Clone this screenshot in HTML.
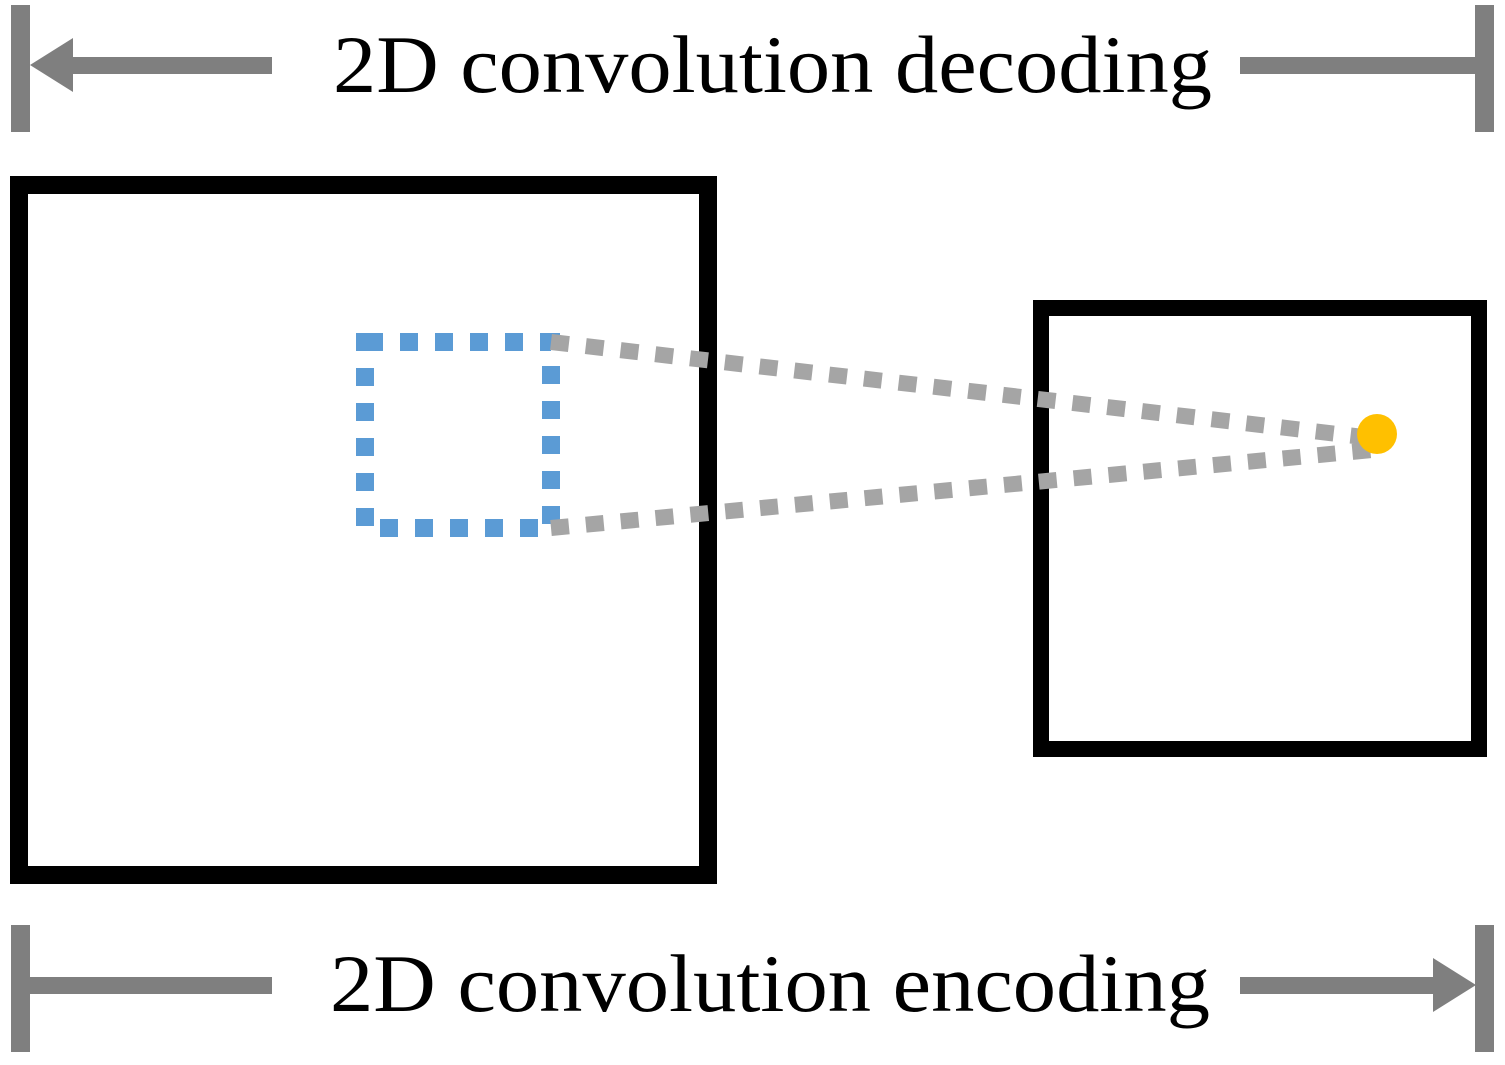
<!DOCTYPE html>
<html><head><style>html,body{margin:0;padding:0;background:#fff;width:1505px;height:1065px;overflow:hidden}</style></head>
<body>
<svg width="1505" height="1065" xmlns="http://www.w3.org/2000/svg">
<g fill="#7f7f7f" stroke="none">
<rect x="11" y="5" width="19" height="127"/>
<rect x="60" y="57" width="212" height="17"/>
<polygon points="30,65 73,38 73,92"/>
<rect x="1475" y="5" width="19" height="127"/>
<rect x="1240" y="57" width="237" height="17"/>
<rect x="11" y="925" width="19" height="127"/>
<rect x="30" y="977" width="242" height="17"/>
<rect x="1475" y="925" width="19" height="127"/>
<rect x="1240" y="977" width="200" height="17"/>
<polygon points="1476,985 1433,958 1433,1012"/>
</g>
<text x="333" y="92" font-family="Liberation Serif, serif" font-size="82" textLength="879" lengthAdjust="spacingAndGlyphs">2D convolution decoding</text>
<text x="330" y="1011" font-family="Liberation Serif, serif" font-size="82" textLength="880" lengthAdjust="spacingAndGlyphs">2D convolution encoding</text>
<rect x="19" y="185" width="689" height="690" fill="none" stroke="#000" stroke-width="18"/>
<rect x="1041" y="308" width="438" height="441" fill="none" stroke="#000" stroke-width="16"/>
<rect x="365" y="342" width="186" height="186" fill="none" stroke="#5b9bd5" stroke-width="18" stroke-dasharray="18 17"/>
<g stroke="#a5a5a5" stroke-width="16" stroke-dasharray="18 17">
<line x1="551" y1="342" x2="1372" y2="438"/>
<line x1="551" y1="528" x2="1372" y2="450"/>
</g>
<circle cx="1377" cy="434" r="20" fill="#ffc000"/>
</svg>
</body></html>
